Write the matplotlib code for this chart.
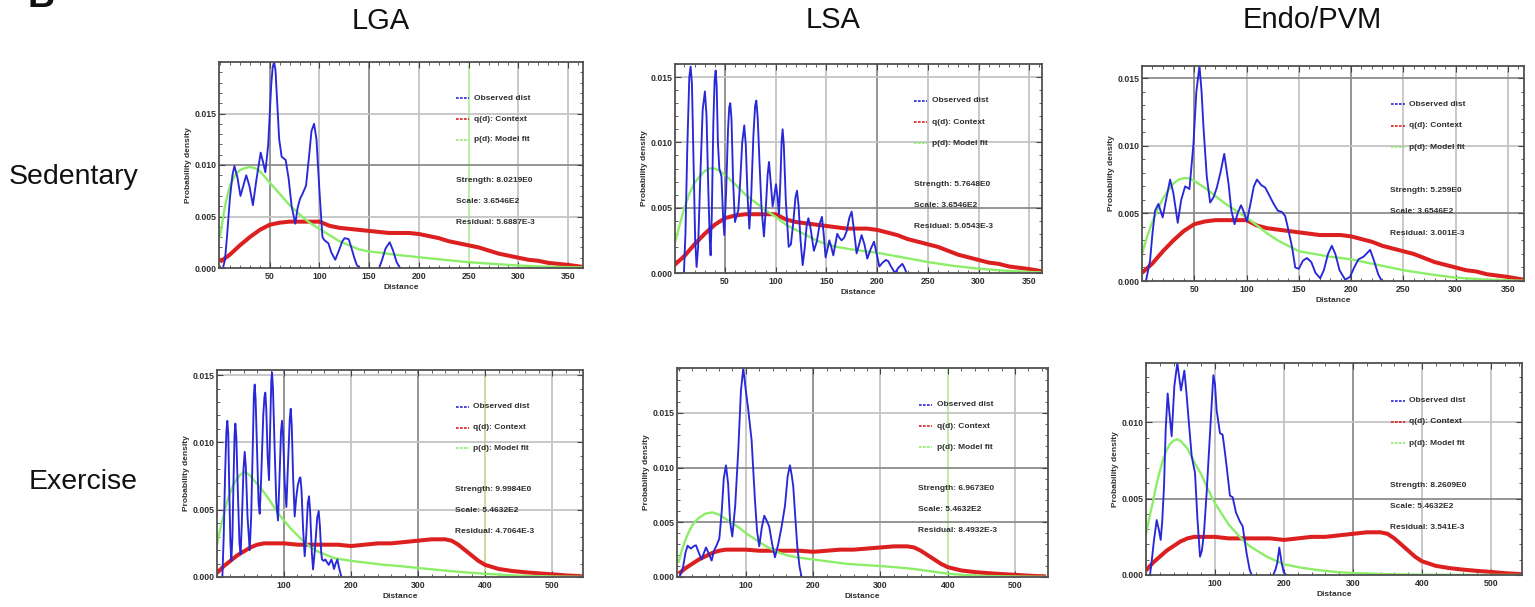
import matplotlib
matplotlib.use("Agg")
import matplotlib.pyplot as plt
from matplotlib.ticker import MultipleLocator, FixedLocator, FormatStrFormatter

nan = float("nan")
plt.rcParams['font.family'] = ['Liberation Sans', 'DejaVu Sans']

# ---------------- data ----------------
column_titles = ["LGA", "LSA", "Endo/PVM"]
row_titles = ["Sedentary", "Exercise"]
legend_labels = ["Observed dist", "q(d): Context", "p(d): Model fit"]

sed_x_ticks = [50, 100, 150, 200, 250, 300, 350]
ex_x_ticks = [100, 200, 300, 400, 500]
y_ticks_4 = [0.000, 0.005, 0.010, 0.015]
y_ticks_3 = [0.000, 0.005, 0.010]

# q(d): context (same for all panels of a row)
red_sed_x = [0, 10, 20, 30, 40, 50, 60, 70, 80, 90, 100, 110, 120, 130, 140, 150, 160, 170, 180,
             190, 200, 210, 220, 230, 240, 250, 260, 270, 280, 290, 300, 310, 320, 330, 340, 350, 365]
red_sed_y = [0.0006, 0.0013, 0.0022, 0.0030, 0.0037, 0.0042, 0.0044, 0.0045, 0.0045, 0.0045, 0.0045,
             0.0041, 0.0039, 0.0038, 0.0037, 0.0036, 0.0035, 0.0034, 0.0034, 0.0034, 0.0033, 0.0031,
             0.0029, 0.0026, 0.0024, 0.0022, 0.0020, 0.0017, 0.0014, 0.0012, 0.0010, 0.0008, 0.0007,
             0.0005, 0.0004, 0.0003, 0.0001]
red_ex_x = [0, 10, 20, 30, 40, 50, 60, 70, 80, 90, 100, 120, 140, 160, 180, 200, 220, 240, 260, 280,
            300, 320, 340, 350, 360, 370, 380, 390, 400, 420, 440, 460, 480, 500, 520, 546]
red_ex_y = [0.0003, 0.0008, 0.0012, 0.0016, 0.0019, 0.0022, 0.0024, 0.0025, 0.0025, 0.0025, 0.0025,
            0.0024, 0.0024, 0.0024, 0.0024, 0.0023, 0.0024, 0.0025, 0.0025, 0.0026, 0.0027, 0.0028,
            0.0028, 0.0027, 0.0024, 0.0020, 0.0016, 0.0012, 0.0009, 0.0006, 0.00045, 0.00035,
            0.00027, 0.0002, 0.00012, 0.00005]

# p(d): model fit
lga_sed_fit_x = [0, 5, 10, 15, 20, 25, 30, 35, 40, 50, 60, 70, 80, 90, 100, 110, 120, 130, 140, 150,
                 160, 175, 200, 225, 250, 275, 300, 325, 350, 365]
lga_sed_fit_y = [0.0030, 0.0060, 0.0080, 0.0090, 0.0095, 0.0097, 0.0098, 0.0097, 0.0094, 0.0083,
                 0.0072, 0.0061, 0.0052, 0.0044, 0.0038, 0.0032, 0.0026, 0.0022, 0.0018, 0.0016,
                 0.0015, 0.0013, 0.00105, 0.0008, 0.00056, 0.0004, 0.00024, 0.00014, 0.00008, 0.00005]
lsa_sed_fit_x = [0, 5, 10, 15, 20, 25, 30, 35, 40, 45, 50, 60, 70, 80, 90, 100, 110, 120, 130, 140,
                 150, 160, 175, 200, 225, 250, 275, 300, 325, 350, 365]
lsa_sed_fit_y = [0.0021, 0.0036, 0.0050, 0.0061, 0.0069, 0.0074, 0.0078, 0.0080, 0.0080, 0.0078,
                 0.0075, 0.0068, 0.0060, 0.0054, 0.0048, 0.0043, 0.0037, 0.0033, 0.0029, 0.0025,
                 0.0022, 0.0020, 0.0018, 0.00155, 0.0012, 0.00084, 0.00055, 0.00033, 0.00018,
                 0.00008, 0.00004]
endo_sed_fit_x = [0, 5, 10, 15, 20, 25, 30, 35, 40, 45, 50, 60, 70, 80, 90, 100, 110, 120, 130, 140,
                  150, 165, 180, 200, 225, 250, 275, 300, 325, 350, 365]
endo_sed_fit_y = [0.0020, 0.0033, 0.0044, 0.0053, 0.0061, 0.0067, 0.0072, 0.0075, 0.0076, 0.0076,
                  0.0074, 0.0069, 0.0063, 0.0057, 0.0052, 0.0047, 0.0041, 0.0035, 0.0030, 0.0026,
                  0.0022, 0.0020, 0.0018, 0.0016, 0.0012, 0.0008, 0.0005, 0.00025, 0.00012,
                  0.00005, 0.00002]
lga_ex_fit_x = [0, 5, 10, 15, 20, 25, 30, 35, 40, 45, 50, 60, 70, 80, 90, 100, 110, 120, 130, 140,
                150, 160, 175, 200, 225, 250, 275, 300, 325, 350, 375, 400, 450, 500, 546]
lga_ex_fit_y = [0.0024, 0.0036, 0.0046, 0.0056, 0.0063, 0.0069, 0.0073, 0.0076, 0.0078, 0.0077,
                0.0075, 0.0069, 0.0063, 0.0056, 0.0048, 0.0042, 0.0036, 0.0031, 0.0026, 0.0022,
                0.0019, 0.0017, 0.0014, 0.0012, 0.00105, 0.0009, 0.0008, 0.00067, 0.00055,
                0.00043, 0.00033, 0.00024, 0.0001, 0.00004, 0.00001]
lsa_ex_fit_x = [0, 5, 10, 15, 20, 25, 30, 40, 50, 60, 70, 80, 90, 100, 110, 120, 130, 140, 150, 160,
                175, 200, 225, 250, 275, 300, 325, 350, 375, 400, 425, 450, 500, 549]
lsa_ex_fit_y = [0.0014, 0.0025, 0.0034, 0.0041, 0.0047, 0.0051, 0.0054, 0.0058, 0.0059, 0.0057,
                0.0053, 0.0049, 0.0045, 0.0040, 0.0036, 0.0032, 0.0028, 0.0025, 0.0022, 0.0020,
                0.0018, 0.0016, 0.0014, 0.0012, 0.0011, 0.0010, 0.00088, 0.00073, 0.00052, 0.0003,
                0.00018, 0.0001, 0.00005, 0.00001]
endo_ex_fit_x = [0, 5, 10, 15, 20, 25, 30, 35, 40, 45, 50, 60, 70, 80, 90, 100, 110, 120, 130, 140,
                 150, 175, 200, 225, 250, 275, 300, 350, 400, 450, 545]
endo_ex_fit_y = [0.0027, 0.0038, 0.0048, 0.0059, 0.0068, 0.0076, 0.0082, 0.0086, 0.0088, 0.0089,
                 0.0088, 0.0083, 0.0074, 0.0066, 0.0056, 0.0047, 0.0040, 0.0033, 0.0028, 0.0023,
                 0.0019, 0.0012, 0.0007, 0.00048, 0.00032, 0.0002, 0.00013, 0.00005, 0.00002,
                 0.00001, 0.0]

# Observed dist, (distance, density) points
lga_sed_obs = [(3, 0), (5, 0.0008), (7, 0.0030), (10, 0.0068), (12.5, 0.0090), (14.5, 0.0099),
               (17.5, 0.0088), (20.6, 0.0070), (23.5, 0.0080), (26.4, 0.0090), (29.5, 0.0080),
               (33.1, 0.0061), (36.5, 0.0085), (40.9, 0.0112), (43.5, 0.0102), (45.6, 0.0093),
               (48.5, 0.0120), (51.5, 0.0178), (53, 0.0195), (54.4, 0.0200), (55.8, 0.0192),
               (57, 0.0170), (59.5, 0.0125),
               (62, 0.0108), (66, 0.0105), (69, 0.0087), (72, 0.0060), (75.7, 0.0043),
               (78, 0.0058), (80.4, 0.0067), (83, 0.0072), (86.5, 0.0080), (89.5, 0.0108),
               (92, 0.0133), (94.6, 0.0140), (97, 0.0125), (100, 0.0075), (103, 0.0030),
               (105, 0.0027), (109, 0.0024), (112, 0.0015), (115.9, 0.0008), (120, 0.0018),
               (123, 0.0026), (125.3, 0.0029), (129.4, 0.0028), (132, 0.0020), (135, 0.0010),
               (137.5, 0.0003), (140.5, 0), (nan, nan), (160, 0), (163, 0.0008), (166.5, 0.0019),
               (170.6, 0.0025), (174, 0.0017), (177.5, 0.0006), (181, 0)]
lsa_sed_obs = [(9.5, 0), (11, 0.0030), (12.8, 0.0095), (14.8, 0.0150), (16.1, 0.0158), (17.4, 0.0145),
               (19, 0.0085), (20.6, 0.0025), (22, 0.00046), (23.5, 0.0020), (25.5, 0.0070),
               (28, 0.0125), (30.2, 0.0139), (31.8, 0.0120), (33.5, 0.0065), (35, 0.0025),
               (35.8, 0.00135), (37, 0.0045), (38.5, 0.0115), (39.8, 0.0148), (40.8, 0.0155),
               (41.8, 0.0143), (43, 0.0100), (44.4, 0.0080), (46.5, 0.0074), (48, 0.0045),
               (49.3, 0.0029), (51, 0.0060), (53, 0.0110), (54.2, 0.0127), (55.2, 0.0130),
               (56.4, 0.0118), (58, 0.0070), (59.8, 0.0039), (61.5, 0.0044), (63.1, 0.0048),
               (65, 0.0070), (67, 0.0100), (69, 0.0113), (70.5, 0.0098), (72.3, 0.0058), (74, 0.0034),
               (75.8, 0.0058), (78, 0.0105), (79.7, 0.0128), (80.9, 0.0132), (82.3, 0.0118),
               (84, 0.0085), (86, 0.0050), (88.4, 0.0028), (90.3, 0.0050), (92, 0.0075),
               (93.4, 0.0085), (94.8, 0.0072), (97, 0.0051), (98.8, 0.0060), (100.3, 0.0068),
               (101.8, 0.0058), (103.2, 0.0045), (104.6, 0.0070), (105.8, 0.0100), (106.8, 0.0110),
               (108, 0.0098), (110, 0.0055), (112.8, 0.0020), (115, 0.0022), (117.5, 0.0040),
               (119.5, 0.0058), (121, 0.0063), (122.5, 0.0052), (124.5, 0.0025), (126.6, 0.0006),
               (128.5, 0.0018), (130.5, 0.0036), (132.2, 0.0042), (134, 0.0036), (137.7, 0.0017),
               (140.5, 0.0024), (143.5, 0.0038), (145.6, 0.0043), (147.3, 0.0030), (149.2, 0.0012),
               (151, 0.0018), (152.9, 0.0025), (154.8, 0.0020), (156.8, 0.00135), (158.8, 0.0022),
               (160.7, 0.0030), (162.8, 0.0027), (165, 0.0025), (167.5, 0.0027), (170, 0.0032),
               (172.5, 0.0042), (174.9, 0.0047), (177.3, 0.0032), (179.8, 0.0015), (182.3, 0.0022),
               (184.7, 0.0029), (187.5, 0.0022), (190.3, 0.0011), (193.5, 0.0018), (196.9, 0.0024),
               (199.5, 0.0015), (202.2, 0.0005), (205.5, 0.0008), (208.7, 0.0010), (211, 0.0009),
               (213, 0.0006), (217.6, 0.0), (221, 0.0004), (224.9, 0.0007), (227, 0.0004), (229, 0)]
endo_sed_obs = [(3.8, 0), (7.7, 0.0015), (10, 0.0035), (12.5, 0.0052), (15.7, 0.0057), (19.8, 0.0047),
                (23, 0.0060), (26.9, 0.0075), (30, 0.0065), (34.2, 0.0043), (37.5, 0.0060),
                (41.3, 0.0070), (45.4, 0.0068), (49.2, 0.0101), (52, 0.0140), (55, 0.0159),
                (57, 0.0140), (58.8, 0.0114), (62, 0.0077), (65.2, 0.0058), (68.5, 0.0062),
                (71.6, 0.0069), (75, 0.0080), (78.7, 0.0094), (82.8, 0.0072), (85.5, 0.0052),
                (88.6, 0.0042), (91.5, 0.0050), (94.7, 0.0056), (97.5, 0.0051), (100.4, 0.0044),
                (104, 0.0058), (107, 0.0070), (110, 0.0075), (114, 0.0071), (118, 0.0069),
                (122, 0.0063), (126, 0.0057), (130, 0.0052), (134, 0.0051), (137, 0.0048),
                (140, 0.0038), (143.6, 0.0025), (146.6, 0.0010), (150, 0.0009), (154, 0.0015),
                (157.8, 0.0017), (162, 0.0014), (166, 0.0006), (170.5, 0.0002), (174, 0.0008),
                (178, 0.0020), (181.6, 0.0026), (185, 0.0020), (189, 0.0008), (194.4, 0.0001),
                (199, 0.0003), (203, 0.0010), (207.1, 0.0016), (212, 0.0018), (218.3, 0.0023),
                (222, 0.0015), (226, 0.0005), (229.4, 0)]
lga_ex_obs = [(8, 0), (10, 0.0030), (12, 0.0075), (14, 0.0108), (15.4, 0.0116), (16.8, 0.0106),
              (18.5, 0.0060), (20, 0.0025), (21.4, 0.0012), (23, 0.0030), (24.8, 0.0075),
              (26.2, 0.0106), (27.4, 0.0114), (28.8, 0.0104), (31, 0.0065), (33.5, 0.0025),
              (35.3, 0.0017), (37, 0.0040), (39.5, 0.0080), (41.3, 0.0093), (43, 0.0082),
              (45.5, 0.0045), (48.8, 0.0020), (51, 0.0045), (53.5, 0.0100), (55, 0.0135),
              (56.2, 0.0143), (57.6, 0.0132), (60, 0.0090), (62, 0.0055), (63.7, 0.0047),
              (66, 0.0075), (69, 0.0120), (70.8, 0.0134), (72.1, 0.0137), (73.5, 0.0125),
              (75.5, 0.0090), (77.6, 0.0072), (79.5, 0.0115), (81, 0.0146), (82.1, 0.0152),
              (83.5, 0.0140), (86, 0.0095), (88.5, 0.0055), (91, 0.0042), (93, 0.0070),
              (95.5, 0.0108), (97, 0.0116), (98.5, 0.0106), (101, 0.0070), (103.5, 0.0052),
              (106, 0.0085), (108.6, 0.0118), (110, 0.0125), (111.5, 0.0113), (113.5, 0.0075),
              (115.9, 0.0045), (118, 0.0058), (120.5, 0.0068), (123, 0.0073), (124.4, 0.0074),
              (126, 0.0065), (128.5, 0.0035), (130.8, 0.00155), (133, 0.0030), (135.5, 0.0055),
              (137.3, 0.0060), (139, 0.0048), (141.5, 0.0018), (143.3, 0.00056), (146, 0.0020),
              (149.5, 0.0044), (151.7, 0.0049), (153.5, 0.0038), (155.5, 0.0018), (156.7, 0.0013),
              (159, 0.0012), (161.7, 0.0013), (164, 0.0011), (166.7, 0.0009), (168.7, 0.0011),
              (170.6, 0.0013), (172.6, 0.0010), (174.6, 0.0006), (177, 0.0010), (179.6, 0.0013),
              (182, 0.0007), (185.6, 0)]
lsa_ex_obs = [(0.9, 0), (4, 0.0004), (6.8, 0.0010), (10, 0.0022), (13.3, 0.00286), (16, 0.0027),
              (18.2, 0.0026), (22, 0.0028), (25.7, 0.0029), (30, 0.0022), (34.1, 0.0016),
              (37.5, 0.0022), (40.6, 0.0027), (45, 0.0021), (49, 0.0015), (52.5, 0.0024),
              (56.4, 0.0029), (60.4, 0.0035), (64, 0.0060), (67, 0.0090), (70.3, 0.0102),
              (73.5, 0.0085), (76.5, 0.0050), (79.7, 0.0037), (84, 0.0065), (88.6, 0.0116),
              (92.5, 0.0170), (96, 0.0191), (99.5, 0.0172), (103.4, 0.0153), (108.4, 0.0125),
              (113.3, 0.0071), (116.5, 0.0042), (119.8, 0.0028), (123.5, 0.0045), (127.2, 0.0056),
              (130.5, 0.0052), (134.6, 0.0046), (139, 0.0030), (143.1, 0.0018), (148, 0.0030),
              (153, 0.0046), (158, 0.0065), (162, 0.0092), (165.4, 0.0102), (168, 0.0093),
              (170.3, 0.0083), (173.3, 0.0055), (176.3, 0.0028), (179.5, 0.0010), (182.7, 0)]
endo_ex_obs = [(5.8, 0), (8.5, 0.0010), (11.6, 0.0023), (15.5, 0.0036), (18.5, 0.0030), (21.3, 0.0023),
               (23.5, 0.0035), (26.1, 0.0058), (28.5, 0.0095), (31.4, 0.0119), (34.2, 0.0105),
               (37.2, 0.0091), (41.1, 0.0124), (45.4, 0.0139), (48, 0.0130), (50.7, 0.0121),
               (55.6, 0.0134), (58.5, 0.0120), (61.4, 0.0104), (66.2, 0.0078), (71, 0.0067),
               (74.4, 0.0038), (78.3, 0.0012), (81, 0.0016), (84.1, 0.0028), (87.9, 0.0054),
               (92.8, 0.0093), (97.6, 0.0131), (100, 0.0125), (102.4, 0.0108), (107.2, 0.0093),
               (111, 0.0092), (114, 0.0082), (116.9, 0.0071), (121.7, 0.0052), (125.6, 0.0051),
               (130.4, 0.0041), (136.2, 0.0035), (140.1, 0.0032), (145.9, 0.0014), (150, 0.0004),
               (153.1, 0), (nan, nan), (184.5, 0), (188, 0.0004), (190.3, 0.0008), (193.2, 0.0018),
               (196.6, 0.0008), (199.5, 0.0002), (202.9, 0)]

lga_sed_stats = ["Strength: 8.0219E0", "Scale: 3.6546E2", "Residual: 5.6887E-3"]
lsa_sed_stats = ["Strength: 5.7648E0", "Scale: 3.6546E2", "Residual: 5.0543E-3"]
endo_sed_stats = ["Strength: 5.259E0", "Scale: 3.6546E2", "Residual: 3.001E-3"]
lga_ex_stats = ["Strength: 9.9984E0", "Scale: 5.4632E2", "Residual: 4.7064E-3"]
lsa_ex_stats = ["Strength: 6.9673E0", "Scale: 5.4632E2", "Residual: 8.4932E-3"]
endo_ex_stats = ["Strength: 8.2609E0", "Scale: 5.4632E2", "Residual: 3.541E-3"]

# ---------------- layout / style ----------------
W, H = 1535, 607
BLUE, RED, GREEN = "#2828d8", "#dc2020", "#8cee68"
TXT = "#2e2e2e"
GRID_LIGHT, GRID_DARK = "#c4c4c4", "#8c8c8c"

panels = [
    dict(box=(219, 62, 583, 268), xlim=(-1, 365), ylim=(0, 0.0200), xt=sed_x_ticks, yt=y_ticks_4,
         xminor=10, obs=lga_sed_obs, red=(red_sed_x, red_sed_y), fit=(lga_sed_fit_x, lga_sed_fit_y),
         stats=lga_sed_stats, dark_x=[50, 150], dark_y=[0.010], special_x={250: "#b8eea0"}),
    dict(box=(675, 64, 1042, 273), xlim=(0.7, 362.6), ylim=(0, 0.0160), xt=sed_x_ticks, yt=y_ticks_4,
         xminor=10, obs=lsa_sed_obs, red=(red_sed_x, red_sed_y), fit=(lsa_sed_fit_x, lsa_sed_fit_y),
         stats=lsa_sed_stats, dark_x=[50, 200], dark_y=[0.005], special_x={}),
    dict(box=(1142, 66, 1524, 281), xlim=(0, 365.5), ylim=(0, 0.0159), xt=sed_x_ticks, yt=y_ticks_4,
         xminor=10, obs=endo_sed_obs, red=(red_sed_x, red_sed_y), fit=(endo_sed_fit_x, endo_sed_fit_y),
         stats=endo_sed_stats, dark_x=[50, 200], dark_y=[0.005, 0.015], special_x={}),
    dict(box=(217, 370, 583, 577), xlim=(0, 546), ylim=(0, 0.01538), xt=ex_x_ticks, yt=y_ticks_4,
         xminor=20, obs=lga_ex_obs, red=(red_ex_x, red_ex_y), fit=(lga_ex_fit_x, lga_ex_fit_y),
         stats=lga_ex_stats, dark_x=[100, 300], dark_y=[], special_x={400: "#cfd49a"}),
    dict(box=(677, 368, 1048, 577), xlim=(-2.5, 549), ylim=(0, 0.0191), xt=ex_x_ticks, yt=y_ticks_4,
         xminor=20, obs=lsa_ex_obs, red=(red_ex_x, red_ex_y), fit=(lsa_ex_fit_x, lsa_ex_fit_y),
         stats=lsa_ex_stats, dark_x=[200], dark_y=[0.005, 0.010], special_x={400: "#b8eea0"}),
    dict(box=(1146, 363, 1522, 575), xlim=(0, 545), ylim=(0, 0.0139), xt=ex_x_ticks, yt=y_ticks_3,
         xminor=20, obs=endo_ex_obs, red=(red_ex_x, red_ex_y), fit=(endo_ex_fit_x, endo_ex_fit_y),
         stats=endo_ex_stats, dark_x=[300], dark_y=[0.005], special_x={}),
]

fig = plt.figure(figsize=(W / 100, H / 100), dpi=100)
fig.patch.set_facecolor("white")

for p in panels:
    l, t, r, b = p["box"]
    ax = fig.add_axes([l / W, 1 - b / H, (r - l) / W, (b - t) / H])
    ax.set_xlim(*p["xlim"])
    ax.set_ylim(*p["ylim"])
    for xv in p["xt"]:
        c = p["special_x"].get(xv, GRID_DARK if xv in p["dark_x"] else GRID_LIGHT)
        ax.axvline(xv, color=c, lw=1.3, zorder=0.5)
    for yv in p["yt"][1:]:
        c = GRID_DARK if yv in p["dark_y"] else GRID_LIGHT
        ax.axhline(yv, color=c, lw=1.3, zorder=0.5)

    rx, ry = p["red"]
    ax.plot(rx, ry, color=RED, lw=2.9, zorder=2, solid_capstyle="butt")
    fx, fy = p["fit"]
    ax.plot(fx, fy, color=GREEN, lw=1.7, zorder=3)
    ox = [pt[0] for pt in p["obs"]]
    oy = [pt[1] for pt in p["obs"]]
    ax.plot(ox, oy, color=BLUE, lw=1.35, zorder=4, solid_joinstyle="round")

    ax.xaxis.set_major_locator(FixedLocator(p["xt"]))
    ax.yaxis.set_major_locator(FixedLocator(p["yt"]))
    ax.xaxis.set_minor_locator(MultipleLocator(p["xminor"]))
    ax.yaxis.set_minor_locator(MultipleLocator(0.001))
    ax.yaxis.set_major_formatter(FormatStrFormatter("%.3f"))
    ax.tick_params(which="both", direction="in", top=True, right=True, color="#444444")
    ax.tick_params(which="major", length=4, width=0.8)
    ax.tick_params(which="minor", length=2.2, width=0.6)
    ax.tick_params(axis="x", pad=3.2, labelsize=6.3, labelcolor=TXT)
    ax.tick_params(axis="y", pad=1.8, labelsize=6.3, labelcolor=TXT)
    for lab in ax.get_xticklabels() + ax.get_yticklabels():
        lab.set_fontweight("bold")
    for s in ax.spines.values():
        s.set_color("#505050")
        s.set_linewidth(1.3)
        s.set_zorder(5)
    ax.set_xlabel("Distance", fontsize=6, fontweight="bold", color=TXT, labelpad=1.5)
    ax.set_ylabel("Probability density", fontsize=6, fontweight="bold", color=TXT, labelpad=2)

    # legend
    for yf, lab, col in zip([0.823, 0.722, 0.622], legend_labels, [BLUE, RED, GREEN]):
        ax.plot([0.652, 0.688], [yf, yf], transform=ax.transAxes, color=col, lw=1.2,
                ls=(0, (1.6, 0.8)), zorder=6, clip_on=False)
        ax.text(0.700, yf, lab, transform=ax.transAxes, fontsize=6, fontweight="bold",
                color=TXT, va="center", ha="left", zorder=6)
    for yf, s in zip([0.423, 0.322, 0.222], p["stats"]):
        ax.text(0.650, yf, s, transform=ax.transAxes, fontsize=6, fontweight="bold",
                color=TXT, va="center", ha="left", zorder=6)

# column and row titles
for txt, xp, yp in zip(column_titles, [381, 833, 1312], [21, 20, 20]):
    fig.text(xp / W, 1 - yp / H, txt, fontsize=21, ha="center", va="center", color="#111111")
for txt, xp, yp in zip(row_titles, [74, 83], [177, 482]):
    fig.text(xp / W, 1 - yp / H, txt, fontsize=20.5, ha="center", va="center", color="#111111")
fig.text(27 / W, 1 - 7 / H, "B", fontsize=27, fontweight="bold", ha="left", va="baseline",
         color="#111111")

fig.savefig("out.png", dpi=100, facecolor="white")
